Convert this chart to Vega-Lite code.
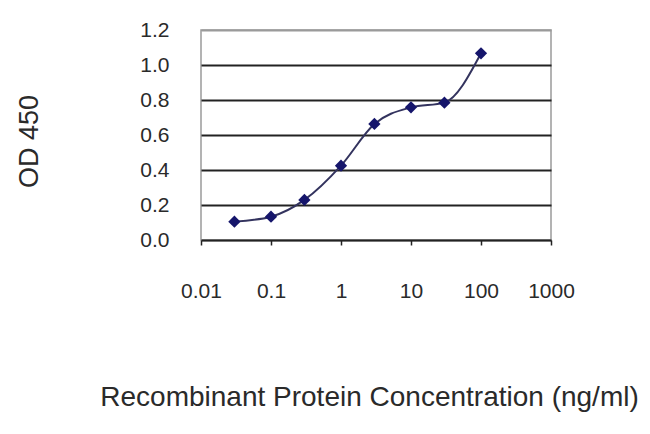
{
  "$schema": "https://vega.github.io/schema/vega-lite/v6.json",
  "autosize": "none",
  "width": 350,
  "height": 210,
  "padding": {"left": 201, "top": 30, "right": 99, "bottom": 194},
  "background": "white",
  "config": {
    "view": {"stroke": "#9a9a9a", "strokeWidth": 1.5},
    "font": "Liberation Sans",
    "axis": {"labelFont": "Liberation Sans", "titleFont": "Liberation Sans", "labelColor": "#2a2a2a", "titleColor": "#2a2a2a", "titleFontWeight": "normal"}
  },
  "data": {
    "values": [
      {"conc": 0.03, "od": 0.105},
      {"conc": 0.1, "od": 0.133},
      {"conc": 0.3, "od": 0.229},
      {"conc": 1, "od": 0.425},
      {"conc": 3, "od": 0.663},
      {"conc": 10, "od": 0.758},
      {"conc": 30, "od": 0.785},
      {"conc": 100, "od": 1.067}
    ]
  },
  "encoding": {
    "x": {
      "field": "conc",
      "type": "quantitative",
      "scale": {"type": "log", "domain": [0.01, 1000], "nice": false},
      "axis": {
        "values": [0.01, 0.1, 1, 10, 100, 1000],
        "labelExpr": "datum.value < 1 ? format(datum.value, '.2~f') : format(datum.value, 'd')",
        "labelFontSize": 21,
        "labelPadding": 35,
        "labelFlush": false,
        "grid": false,
        "domainColor": "#222",
        "domainWidth": 2,
        "tickColor": "#222",
        "tickSize": 5,
        "tickWidth": 1.5,
        "title": "Recombinant Protein Concentration (ng/ml)",
        "titleFontSize": 28,
        "titlePadding": 82,
        "titleX": 168
      }
    },
    "y": {
      "field": "od",
      "type": "quantitative",
      "scale": {"domain": [0, 1.2], "nice": false},
      "axis": {
        "values": [0, 0.2, 0.4, 0.6, 0.8, 1.0, 1.2],
        "format": ".1f",
        "labelFontSize": 21,
        "labelPadding": 32,
        "ticks": false,
        "domain": false,
        "grid": true,
        "gridColor": {"condition": {"test": "datum.value >= 1.19 || datum.value <= 0.01", "value": "#9a9a9a"}, "value": "#222"},
        "gridWidth": 2,
        "title": "OD 450",
        "titleFontSize": 27,
        "titlePadding": 96,
        "titleY": 111
      }
    }
  },
  "layer": [
    {"mark": {"type": "line", "interpolate": "monotone", "color": "#33335e", "strokeWidth": 2}},
    {"mark": {"type": "point", "shape": "diamond", "filled": true, "size": 150, "color": "#15156b", "opacity": 1}}
  ]
}
